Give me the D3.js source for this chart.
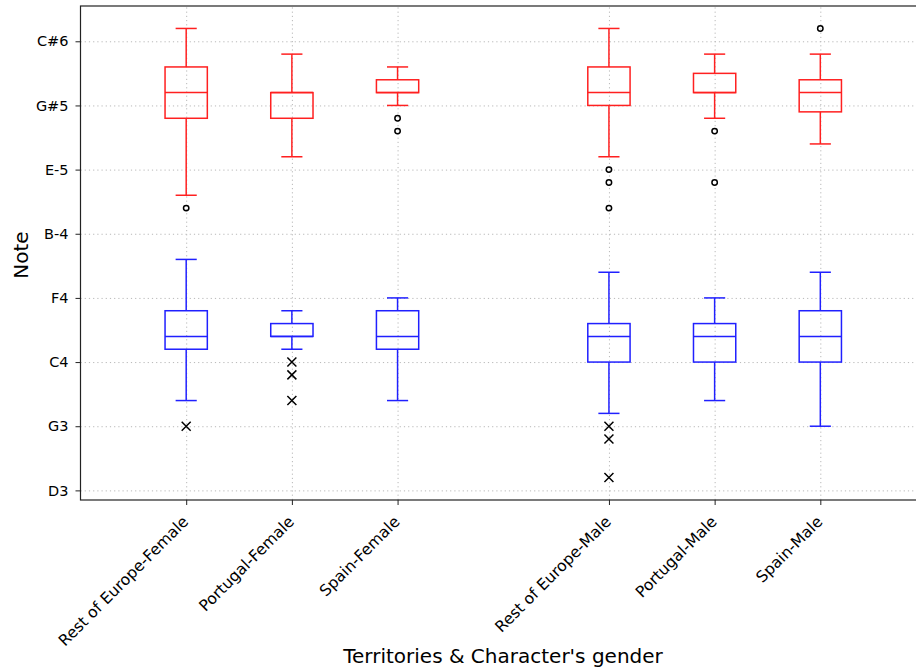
<!DOCTYPE html>
<html lang="en">
<head>
  <meta charset="utf-8" />
  <title>Notes by territory and gender</title>
  <script src="https://d3js.org/d3.v7.min.js"></script>
  <style>
    html, body {
      margin: 0;
      padding: 0;
      background: #ffffff;
    }
    svg text {
      font-family: "DejaVu Sans", sans-serif;
      fill: #000;
    }
    .grid line {
      stroke: #b8b8b8;
      stroke-width: 1;
      stroke-dasharray: 1.2, 3;
    }
    .grid path { display: none; }
    .axis path, .axis line {
      stroke: #222;
    }
  </style>
</head>
<body>
  <svg id="chart" width="916" height="670"></svg>

  <script>
    // categories and where they sit on the x axis (slot 4 is left empty)
    const categories = [
      "Rest of Europe-Female", "Portugal-Female", "Spain-Female",
      "Rest of Europe-Male", "Portugal-Male", "Spain-Male"
    ];
    const positions = [1, 2, 3, 5, 6, 7];

    // y ticks, as MIDI note numbers, and their note names
    const noteTicks = [50, 55, 60, 65, 70, 75, 80, 85];
    const noteLabels = ["D3", "G3", "C4", "F4", "B-4", "E-5", "G#5", "C#6"];

    // upper series (red): whisker low, Q1, median, Q3, whisker high, fliers
    const redLow    = [73, 76, 80, 76, 79, 77];
    const redQ1     = [79, 79, 81, 80, 81, 79.5];
    const redMedian = [81, 81, 81, 81, 81, 81];
    const redQ3     = [83, 81, 82, 83, 82.5, 82];
    const redHigh   = [86, 84, 83, 86, 84, 84];
    const redFliers = [[72], [], [79, 78], [75, 74, 72], [78, 74], [86]];

    // lower series (blue)
    const blueLow    = [57, 61, 57, 56, 57, 55];
    const blueQ1     = [61, 62, 61, 60, 60, 60];
    const blueMedian = [62, 62, 62, 62, 62, 62];
    const blueQ3     = [64, 63, 64, 63, 63, 64];
    const blueHigh   = [68, 64, 65, 67, 65, 67];
    const blueFliers = [[55], [60, 59, 57], [], [55, 54, 51], [], []];

    const plotLeft = 80.5, plotTop = 6, plotBottom = 500, plotRight = 926;

    const svg = d3.select("#chart");

    const x = d3.scaleLinear().domain([0, 8]).range([plotLeft, plotRight]);
    const y = d3.scaleLinear().domain([49.25, 87.75]).range([plotBottom, plotTop]);

    // grid
    svg.append("g")
      .attr("class", "grid")
      .attr("transform", `translate(0,${plotBottom})`)
      .call(d3.axisBottom(x).tickValues(positions).tickSize(-(plotBottom - plotTop)).tickFormat(""));
    svg.append("g")
      .attr("class", "grid")
      .attr("transform", `translate(${plotLeft},0)`)
      .call(d3.axisLeft(y).tickValues(noteTicks).tickSize(-(plotRight - plotLeft)).tickFormat(""));

    function makeStats(low, q1, med, q3, high, fliers) {
      return categories.map((c, i) => ({
        pos: positions[i], low: low[i], q1: q1[i], med: med[i],
        q3: q3[i], high: high[i], fliers: fliers[i]
      }));
    }

    const boxW = 0.4, capW = 0.2;

    function drawBoxes(stats, color, marker) {
      const g = svg.append("g")
        .attr("fill", "none")
        .attr("stroke", color)
        .attr("stroke-width", 1.5);

      const b = g.selectAll("g.box").data(stats).join("g").attr("class", "box");

      // whiskers
      b.append("line")
        .attr("x1", d => x(d.pos)).attr("x2", d => x(d.pos))
        .attr("y1", d => y(d.q3)).attr("y2", d => y(d.high));
      b.append("line")
        .attr("x1", d => x(d.pos)).attr("x2", d => x(d.pos))
        .attr("y1", d => y(d.q1)).attr("y2", d => y(d.low));
      // caps
      b.append("line")
        .attr("x1", d => x(d.pos - capW / 2)).attr("x2", d => x(d.pos + capW / 2))
        .attr("y1", d => y(d.high)).attr("y2", d => y(d.high));
      b.append("line")
        .attr("x1", d => x(d.pos - capW / 2)).attr("x2", d => x(d.pos + capW / 2))
        .attr("y1", d => y(d.low)).attr("y2", d => y(d.low));
      // box
      b.append("rect")
        .attr("x", d => x(d.pos - boxW / 2))
        .attr("width", x(boxW) - x(0))
        .attr("y", d => y(d.q3))
        .attr("height", d => y(d.q1) - y(d.q3));
      // median
      b.append("line")
        .attr("x1", d => x(d.pos - boxW / 2)).attr("x2", d => x(d.pos + boxW / 2))
        .attr("y1", d => y(d.med)).attr("y2", d => y(d.med));

      // fliers
      const pts = stats.flatMap(d => d.fliers.map(v => ({ pos: d.pos, v })));
      const f = svg.append("g").attr("stroke", "#000").attr("fill", "none");
      if (marker === "o") {
        f.selectAll("circle").data(pts).join("circle")
          .attr("cx", d => x(d.pos)).attr("cy", d => y(d.v))
          .attr("r", 2.7).attr("stroke-width", 1.5);
      } else {
        const s = 4.5;
        f.selectAll("path").data(pts).join("path")
          .attr("stroke-width", 1.5)
          .attr("d", d => {
            const cx = x(d.pos), cy = y(d.v);
            return `M${cx - s},${cy - s}L${cx + s},${cy + s}M${cx - s},${cy + s}L${cx + s},${cy - s}`;
          });
      }
    }

    drawBoxes(makeStats(redLow, redQ1, redMedian, redQ3, redHigh, redFliers), "#ff2020", "o");
    drawBoxes(makeStats(blueLow, blueQ1, blueMedian, blueQ3, blueHigh, blueFliers), "#2020ff", "x");

    // frame
    svg.append("rect")
      .attr("x", plotLeft).attr("y", plotTop)
      .attr("width", plotRight - plotLeft).attr("height", plotBottom - plotTop)
      .attr("fill", "none").attr("stroke", "#222").attr("stroke-width", 1.2);

    // axes
    const yAxis = svg.append("g")
      .attr("class", "axis")
      .attr("transform", `translate(${plotLeft},0)`)
      .call(d3.axisLeft(y).tickValues(noteTicks).tickFormat((d, i) => noteLabels[i]).tickSize(5).tickPadding(7));
    yAxis.select(".domain").remove();
    yAxis.selectAll("text").attr("font-size", 14.5);

    const xAxis = svg.append("g")
      .attr("class", "axis")
      .attr("transform", `translate(0,${plotBottom})`)
      .call(d3.axisBottom(x).tickValues(positions).tickFormat((d, i) => categories[i]).tickSize(5));
    xAxis.select(".domain").remove();
    xAxis.selectAll("text")
      .attr("font-size", 15.6)
      .attr("text-anchor", "end")
      .attr("dy", 0)
      .attr("transform", "translate(-3,17) rotate(-45)");

    // axis titles
    svg.append("text")
      .attr("x", 503).attr("y", 663)
      .attr("text-anchor", "middle")
      .attr("font-size", 20)
      .text("Territories & Character's gender");

    svg.append("text")
      .attr("transform", "translate(28,255) rotate(-90)")
      .attr("text-anchor", "middle")
      .attr("font-size", 20)
      .text("Note");
  </script>
</body>
</html>
